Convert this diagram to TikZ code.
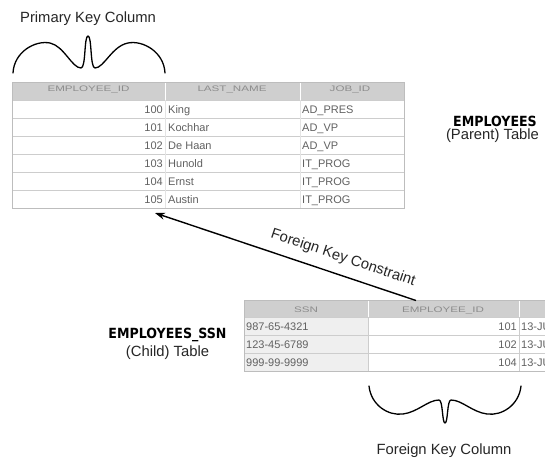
\documentclass[tikz,border=0pt]{standalone}
\usepackage{fontspec}
\setmainfont{Liberation Sans}
\newfontfamily\boldf{DejaVu Sans}[FakeStretch=0.9]
\newfontfamily\hdrf{Liberation Sans}[FakeStretch=1.45]
\usetikzlibrary{arrows.meta}
\definecolor{hdrgray}{HTML}{CFCFCF}
\definecolor{rowline}{HTML}{CDCDCD}
\definecolor{tborder}{HTML}{BDBDBD}
\definecolor{ssncell}{HTML}{EFEFEF}
\definecolor{faint}{HTML}{E4E4E4}
\begin{document}
\begin{tikzpicture}[x=1pt,y=-1pt,
  lab/.style={font=\fontsize{14.8}{17}\selectfont, text=black!85, inner sep=0},
  boldlab/.style={font=\boldf\bfseries\fontsize{14}{16}\selectfont, text=black, inner sep=0},
  hdrtxt/.style={font=\hdrf\fontsize{8}{9}\selectfont, text=black!45, inner sep=0},
  celltxt/.style={font=\fontsize{11}{12}\selectfont, text=black!62, inner sep=0},
  brace/.style={line width=1.3pt, line cap=round, line join=round},
  tablebox/.style={draw=tborder, line width=0.8pt, inner sep=0, anchor=north west},
  fkarrow/.style={line width=1.4pt, -{Stealth[length=10pt,width=7pt]}}
]
\useasboundingbox (0,0) rectangle (545,459);
\fill[white] (0,0) rectangle (545,459);

% ---------- parent table ----------
\fill[hdrgray] (12,82) rectangle (404,100);
\draw[white, line width=1pt] (165,82) -- (165,100) (300,82) -- (300,100);
\foreach \k in {1,...,5}{\draw[rowline, line width=0.8pt] (12,100+18*\k) -- (404,100+18*\k);}
\draw[rowline, line width=0.8pt] (12,100) -- (404,100);
\draw[faint, line width=0.6pt] (165,100) -- (165,208) (300,100) -- (300,208);
\node[tablebox, minimum width=392pt, minimum height=126pt] (parent) at (12,82) {};
\node[hdrtxt, anchor=base] (ph1) at (88.5,91) {EMPLOYEE\_ID};
\node[hdrtxt, anchor=base] (ph2) at (232,91) {LAST\_NAME};
\node[hdrtxt, anchor=base] (ph3) at (350,91) {JOB\_ID};
\foreach \id/\nm/\job [count=\i from 0] in {100/King/AD\_PRES,101/Kochhar/AD\_VP,102/De Haan/AD\_VP,103/Hunold/IT\_PROG,104/Ernst/IT\_PROG,105/Austin/IT\_PROG}{
  \node[celltxt, anchor=base east] (pid\i) at (163,113+18*\i) {\id};
  \node[celltxt, anchor=base west] (pnm\i) at (168,113+18*\i) {\nm};
  \node[celltxt, anchor=base west] (pjob\i) at (302,113+18*\i) {\job};
}

% ---------- child table ----------
\begin{scope}
\clip (0,0) rectangle (545,459);
\fill[hdrgray] (244,300) rectangle (560,317);
\fill[ssncell] (244,317) rectangle (368,371);
\draw[white, line width=1pt] (368,300) -- (368,317) (519,300) -- (519,317);
\foreach \k in {0,...,3}{\draw[rowline, line width=0.8pt] (244,317+18*\k) -- (560,317+18*\k);}
\draw[rowline, line width=0.8pt] (368,317) -- (368,371) (519,317) -- (519,371);
\node[tablebox, minimum width=320pt, minimum height=71pt] (child) at (244,300) {};
\node[hdrtxt, anchor=base] (ch1) at (306,312) {SSN};
\node[hdrtxt, anchor=base] (ch2) at (443,312) {EMPLOYEE\_ID};
\foreach \ssn/\id [count=\i from 0] in {987-65-4321/101,123-45-6789/102,999-99-9999/104}{
  \node[celltxt, anchor=base west] (cssn\i) at (246,330.5+18*\i) {\ssn};
  \node[celltxt, anchor=base east] (cid\i) at (517,330.5+18*\i) {\id};
  \node[celltxt, anchor=base west] (cdt\i) at (521,330.5+18*\i) {13-JUN-04};
}
\end{scope}

% ---------- labels ----------
\node[lab, anchor=base] (pklabel) at (88,22) {Primary Key Column};
\node[lab, anchor=base] (fklabel) at (444,454) {Foreign Key Column};
\node[boldlab, anchor=base] (emp) at (495,126) {EMPLOYEES};
\node[lab, anchor=base] (emppar) at (492.5,139.5) {(Parent) Table};
\node[boldlab, anchor=base] (ssn) at (167.5,338) {EMPLOYEES\_SSN};
\node[lab, anchor=base] (ssnchild) at (167.5,356.5) {(Child) Table};

% ---------- braces ----------
\draw[brace] (13,73) .. controls (14,52) and (35,40) .. (50,43)
  .. controls (64,46) and (72,68) .. (81,68)
  .. controls (86,68) and (84,36) .. (88,36)
  .. controls (92,36) and (90,68) .. (95,68)
  .. controls (104,68) and (112,46) .. (128,43)
  .. controls (143,40) and (164,52) .. (165,73);
\draw[brace] (369,386) .. controls (371,405) and (388,416) .. (403,414)
  .. controls (418,412) and (428,400) .. (439,400)
  .. controls (443,400) and (442,423) .. (445,423)
  .. controls (448,423) and (447,400) .. (451,400)
  .. controls (462,400) and (472,412) .. (487,414)
  .. controls (502,416) and (519,405) .. (521,386);

% ---------- foreign key arrow ----------
\coordinate (fkstart) at (416,300.5);
\coordinate (fkend) at (155,213);
\draw[fkarrow] (fkstart) -- (fkend);
\path (fkend) -- (fkstart) node[lab, pos=0.7, sloped, above=10pt] (fkc) {Foreign Key Constraint};
\end{tikzpicture}
\end{document}
